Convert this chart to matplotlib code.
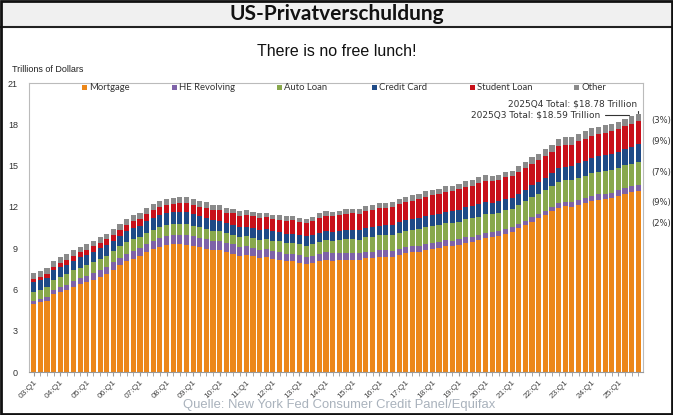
import matplotlib
matplotlib.use("Agg")
import matplotlib.pyplot as plt
from matplotlib.patches import Rectangle
import numpy as np

years = list(range(3, 26))
quarters = [f"{y:02d}:Q{q}" for y in years for q in range(1, 5)]
tick_labels = [f"{y:02d}:Q1" for y in years]

mortgage = [4.94, 5.08, 5.18, 5.66, 5.84, 5.97, 6.21, 6.36, 6.51, 6.70, 6.91, 7.10,
            7.44, 7.76, 8.04, 8.23, 8.42, 8.71, 8.91, 9.10, 9.23, 9.27, 9.29, 9.26,
            9.14, 9.06, 8.94, 8.84, 8.83, 8.70, 8.61, 8.45, 8.53, 8.40, 8.27, 8.33,
            8.19, 8.15, 8.03, 8.03, 7.93, 7.84, 7.90, 8.05, 8.17, 8.10, 8.13, 8.17,
            8.17, 8.12, 8.26, 8.25, 8.37, 8.36, 8.35, 8.48, 8.63, 8.69, 8.74, 8.88,
            8.94, 9.00, 9.14, 9.12, 9.24, 9.41, 9.44, 9.56, 9.71, 9.78, 9.86, 10.04,
            10.16, 10.44, 10.67, 10.93, 11.18, 11.39, 11.67, 11.92, 12.04, 12.01, 12.14, 12.25,
            12.44, 12.52, 12.59, 12.61, 12.80, 12.94, 13.07, 13.17]
he_revolving = [0.24, 0.26, 0.29, 0.30, 0.34, 0.38, 0.40, 0.44, 0.47, 0.49, 0.51, 0.52,
                0.54, 0.56, 0.57, 0.59, 0.60, 0.60, 0.61, 0.63, 0.65, 0.67, 0.69, 0.71,
                0.71, 0.71, 0.70, 0.69, 0.68, 0.67, 0.66, 0.65, 0.64, 0.63, 0.62, 0.61,
                0.60, 0.59, 0.57, 0.56, 0.55, 0.54, 0.54, 0.53, 0.53, 0.52, 0.52, 0.51,
                0.51, 0.50, 0.49, 0.49, 0.48, 0.47, 0.46, 0.45, 0.45, 0.44, 0.44, 0.44,
                0.44, 0.43, 0.42, 0.41, 0.41, 0.40, 0.40, 0.39, 0.39, 0.37, 0.36, 0.35,
                0.35, 0.33, 0.32, 0.32, 0.32, 0.32, 0.32, 0.34, 0.34, 0.34, 0.35, 0.36,
                0.38, 0.38, 0.38, 0.39, 0.40, 0.41, 0.42, 0.43]
auto_loan = [0.64, 0.62, 0.68, 0.70, 0.72, 0.74, 0.77, 0.76, 0.77, 0.80, 0.82, 0.82,
             0.79, 0.80, 0.82, 0.82, 0.80, 0.81, 0.82, 0.81, 0.80, 0.81, 0.80, 0.79,
             0.78, 0.75, 0.74, 0.72, 0.71, 0.70, 0.71, 0.71, 0.71, 0.72, 0.73, 0.73,
             0.74, 0.75, 0.77, 0.78, 0.79, 0.81, 0.84, 0.86, 0.88, 0.90, 0.93, 0.96,
             0.97, 1.00, 1.03, 1.06, 1.07, 1.10, 1.14, 1.16, 1.17, 1.19, 1.21, 1.22,
             1.23, 1.24, 1.26, 1.27, 1.28, 1.30, 1.32, 1.33, 1.35, 1.34, 1.36, 1.37,
             1.37, 1.40, 1.44, 1.46, 1.47, 1.50, 1.52, 1.55, 1.56, 1.58, 1.60, 1.61,
             1.62, 1.63, 1.64, 1.66, 1.64, 1.66, 1.66, 1.67]
credit_card = [0.69, 0.69, 0.70, 0.73, 0.70, 0.71, 0.72, 0.77, 0.74, 0.76, 0.77, 0.80,
               0.76, 0.78, 0.80, 0.84, 0.81, 0.83, 0.86, 0.89, 0.85, 0.86, 0.87, 0.87,
               0.84, 0.82, 0.81, 0.79, 0.76, 0.74, 0.73, 0.73, 0.69, 0.70, 0.70, 0.70,
               0.68, 0.67, 0.67, 0.68, 0.66, 0.67, 0.67, 0.68, 0.66, 0.67, 0.68, 0.70,
               0.68, 0.69, 0.71, 0.73, 0.71, 0.73, 0.75, 0.78, 0.76, 0.78, 0.81, 0.83,
               0.82, 0.83, 0.84, 0.87, 0.85, 0.87, 0.88, 0.93, 0.89, 0.82, 0.81, 0.82,
               0.77, 0.79, 0.80, 0.86, 0.84, 0.89, 0.93, 0.99, 0.99, 1.03, 1.08, 1.13,
               1.12, 1.14, 1.17, 1.21, 1.18, 1.21, 1.23, 1.28]
student_loan = [0.24, 0.25, 0.26, 0.25, 0.32, 0.33, 0.35, 0.36, 0.39, 0.39, 0.39, 0.40,
                0.43, 0.44, 0.48, 0.48, 0.51, 0.52, 0.55, 0.55, 0.59, 0.61, 0.64, 0.64,
                0.66, 0.68, 0.72, 0.72, 0.76, 0.76, 0.81, 0.81, 0.84, 0.85, 0.87, 0.87,
                0.90, 0.91, 0.96, 0.97, 0.99, 0.99, 1.03, 1.08, 1.11, 1.12, 1.13, 1.16,
                1.19, 1.19, 1.20, 1.23, 1.26, 1.26, 1.28, 1.31, 1.34, 1.34, 1.36, 1.38,
                1.41, 1.41, 1.44, 1.46, 1.49, 1.48, 1.50, 1.51, 1.54, 1.54, 1.55, 1.56,
                1.58, 1.57, 1.58, 1.58, 1.59, 1.59, 1.57, 1.60, 1.60, 1.57, 1.60, 1.60,
                1.60, 1.59, 1.61, 1.62, 1.63, 1.64, 1.65, 1.66]
other = [0.45, 0.44, 0.45, 0.45, 0.42, 0.42, 0.42, 0.42, 0.42, 0.41, 0.41, 0.42,
         0.42, 0.41, 0.42, 0.43, 0.42, 0.42, 0.43, 0.44, 0.43, 0.43, 0.42, 0.42,
         0.41, 0.41, 0.41, 0.41, 0.38, 0.36, 0.35, 0.35, 0.33, 0.33, 0.33, 0.33,
         0.31, 0.31, 0.31, 0.31, 0.30, 0.30, 0.31, 0.32, 0.32, 0.33, 0.33, 0.34,
         0.34, 0.35, 0.36, 0.37, 0.37, 0.38, 0.38, 0.39, 0.38, 0.39, 0.40, 0.41,
         0.40, 0.41, 0.41, 0.42, 0.42, 0.42, 0.42, 0.43, 0.42, 0.41, 0.41, 0.42,
         0.41, 0.42, 0.43, 0.45, 0.46, 0.48, 0.49, 0.51, 0.51, 0.52, 0.54, 0.55,
         0.54, 0.55, 0.55, 0.56, 0.55, 0.55, 0.56, 0.57]

series_names = ["Mortgage", "HE Revolving", "Auto Loan", "Credit Card", "Student Loan", "Other"]
series_colors = ["#EC8719", "#7E62A8", "#88A84C", "#1F4A86", "#C8101A", "#8A8A8A"]
share_labels = ["(3%)", "(9%)", "(7%)", "(9%)", "(2%)"]
q4_label = "2025Q4 Total: $18.78 Trillion"
q3_label = "2025Q3 Total: $18.59 Trillion"

W, H = 673, 415
fig = plt.figure(figsize=(W / 100, H / 100), dpi=100)
fig.patch.set_facecolor("white")

# header box
fig.patches.append(Rectangle((0, 1 - 27 / H), 1, 27 / H, transform=fig.transFigure,
                             facecolor="#F0F0F0", edgecolor="none", zorder=0))
fig.add_artist(plt.Line2D([0, 1], [1 - 27 / H, 1 - 27 / H], transform=fig.transFigure,
                          color="#222222", lw=1.5))
fig.patches.append(Rectangle((0.002, 0.003), 0.996, 0.994, transform=fig.transFigure,
                             facecolor="none", edgecolor="#111111", lw=2.0, zorder=10))
fig.text(0.5, 1 - 14 / H, "US-Privatverschuldung", ha="center", va="center",
         fontsize=15, fontweight="bold", family="Lato", color="#111111")
fig.text(0.5, 1 - 52 / H, "There is no free lunch!", ha="center", va="center",
         fontsize=11.5, family="Liberation Sans", color="#111111")
fig.text(12 / W, 1 - 70 / H, "Trillions of Dollars", ha="left", va="center",
         fontsize=6.5, family="Liberation Sans", color="#222222")
fig.text(339 / W, 1 - 405 / H, "Quelle: New York Fed Consumer Credit Panel/Equifax",
         ha="center", va="center", fontsize=9.4, family="Liberation Sans",
         color="#A9B2BC")

ax = fig.add_axes([29 / W, 1 - 372 / H, (643 - 29) / W, (372 - 83) / H])
x = np.arange(len(quarters))
bottom = np.zeros(len(quarters))
data = [mortgage, he_revolving, auto_loan, credit_card, student_loan, other]
for name, vals, col in zip(series_names, data, series_colors):
    vals = np.array(vals)
    ax.bar(x, vals, bottom=bottom, width=0.78, color=col, label=name,
           edgecolor="none", zorder=2)
    bottom += vals

ax.set_xlim(-0.7, len(quarters) - 0.3)
ax.set_ylim(0, 21)
ax.set_yticks(np.arange(0, 22, 3))
ax.tick_params(axis="y", length=0, labelsize=6.5, pad=8, colors="#333333")
ax.set_xticks(x[::4])
ax.set_xticklabels(tick_labels, rotation=45, ha="right", rotation_mode="anchor",
                   fontsize=6, family="Liberation Sans", color="#444444")
ax.set_xticks(x, minor=True)
ax.tick_params(axis="x", which="both", length=3, color="#999999", pad=2)
for s in ["left", "top", "right"]:
    ax.spines[s].set_color("#BBBBBB")
    ax.spines[s].set_linewidth(0.8)
ax.spines["bottom"].set_color("#999999")
for lbl in ax.get_yticklabels():
    lbl.set_family("Liberation Sans")

# legend, laid out manually across the top of the plot
leg_x = [82, 172, 277, 372, 470, 574]
leg_y = 1 - 88 / H
for name, col, lx in zip(series_names, series_colors, leg_x):
    fig.patches.append(Rectangle((lx / W, leg_y - 2.5 / H), 5 / W, 5 / H,
                                 transform=fig.transFigure, facecolor=col,
                                 edgecolor="none", zorder=5))
    fig.text((lx + 7) / W, leg_y, name, ha="left", va="center", fontsize=6.8,
             family="Lato", color="#333333", zorder=5)

# share labels on right
share_y = [120, 141, 172, 202, 223]
for lab, yy in zip(share_labels, share_y):
    fig.text(651 / W, 1 - yy / H, lab, ha="left", va="center", fontsize=6,
             family="DejaVu Sans", color="#333333")

# annotations
last = len(quarters) - 1
tot = bottom
ax.annotate(q4_label, xy=(last, tot[last] + 0.05), xytext=(last - 0.2, 19.5),
            ha="right", va="center", fontsize=6.5, family="DejaVu Sans", color="#333333",
            arrowprops=dict(arrowstyle="-", color="#333333", lw=0.8,
                            connectionstyle="angle,angleA=0,angleB=90,rad=0"))
ax.annotate(q3_label, xy=(last - 1, tot[last - 1] + 0.05), xytext=(last - 5.8, 18.7),
            ha="right", va="center", fontsize=6.5, family="DejaVu Sans", color="#333333",
            arrowprops=dict(arrowstyle="-", color="#333333", lw=0.8,
                            connectionstyle="angle,angleA=0,angleB=90,rad=0"))

fig.savefig("out.png", dpi=100, facecolor="white")
